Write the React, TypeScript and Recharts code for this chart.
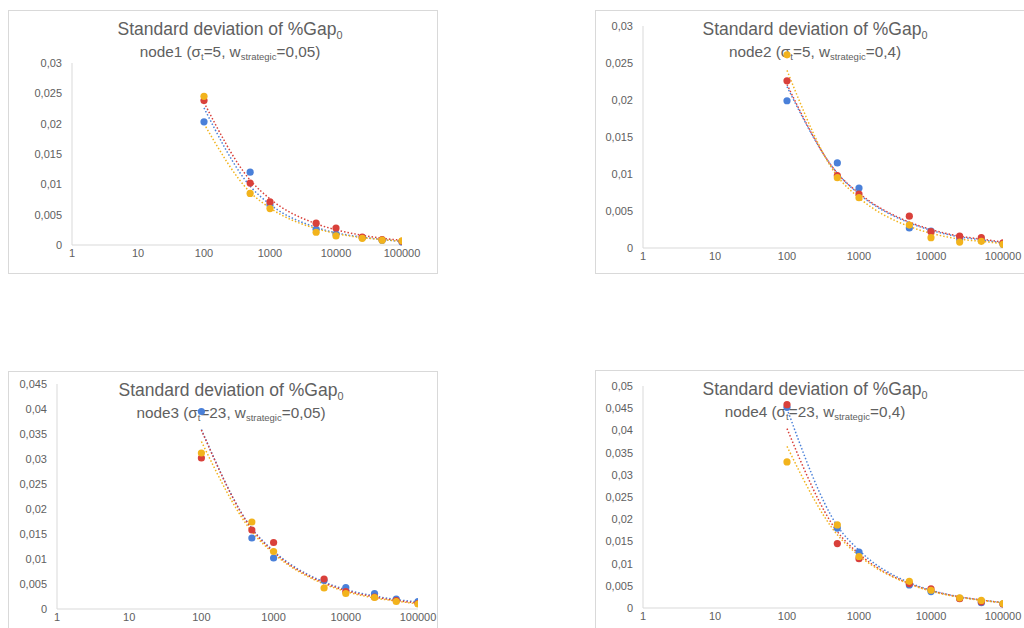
import React from 'react';
import { ComposedChart, XAxis, YAxis, Scatter, Line } from 'recharts';

// sample sizes (x values)
const sampleSizes = [100, 500, 1000, 5000, 10000, 25000, 50000, 100000];
const xTicks = [1, 10, 100, 1000, 10000, 100000];

// node1
const blue1 = [0.0203, 0.0120, 0.0066, 0.0026, 0.0018, 0.0012, 0.0008, 0.0005];
const red1 = [0.0238, 0.0102, 0.0071, 0.0036, 0.0028, 0.0013, 0.0009, 0.0006];
const yellow1 = [0.0245, 0.0085, 0.0060, 0.0021, 0.0015, 0.0011, 0.0008, 0.0007];
const blueTrend1 = [0.0226, 0.0097, 0.0067, 0.0029, 0.0020, 0.0013, 0.0009, 0.0006];
const redTrend1 = [0.0235, 0.0107, 0.0076, 0.0035, 0.0025, 0.0016, 0.0011, 0.0008];
const yellowTrend1 = [0.0200, 0.0087, 0.0061, 0.0027, 0.0019, 0.0012, 0.0009, 0.0006];

// node2
const blue2 = [0.0199, 0.0115, 0.0081, 0.0027, 0.0023, 0.0012, 0.0010, 0.0005];
const red2 = [0.0226, 0.0098, 0.0073, 0.0043, 0.0022, 0.0016, 0.0014, 0.0007];
const yellow2 = [0.0261, 0.0095, 0.0068, 0.0031, 0.0014, 0.0008, 0.0009, 0.0005];
const blueTrend2 = [0.0218, 0.0101, 0.0073, 0.0034, 0.0024, 0.0015, 0.0011, 0.0007];
const redTrend2 = [0.0221, 0.0101, 0.0074, 0.0035, 0.0025, 0.0016, 0.0012, 0.0008];
const yellowTrend2 = [0.0240, 0.0097, 0.0068, 0.0029, 0.0020, 0.0012, 0.0009, 0.0006];

// node3
const blue3 = [0.0395, 0.0142, 0.0102, 0.0057, 0.0043, 0.0031, 0.0020, 0.0015];
const red3 = [0.0302, 0.0158, 0.0133, 0.0060, 0.0035, 0.0024, 0.0017, 0.0011];
const yellow3 = [0.0312, 0.0174, 0.0115, 0.0042, 0.0031, 0.0023, 0.0015, 0.0010];
const blueTrend3 = [0.0359, 0.0161, 0.0116, 0.0054, 0.0039, 0.0026, 0.0019, 0.0014];
const redTrend3 = [0.0358, 0.0160, 0.0114, 0.0052, 0.0037, 0.0024, 0.0017, 0.0012];
const yellowTrend3 = [0.0335, 0.0155, 0.0111, 0.0050, 0.0035, 0.0022, 0.0016, 0.0010];

// node4
const blue4 = [0.0452, 0.0180, 0.0126, 0.0052, 0.0037, 0.0022, 0.0012, 0.0009];
const red4 = [0.0458, 0.0145, 0.0111, 0.0055, 0.0043, 0.0021, 0.0014, 0.0009];
const yellow4 = [0.0329, 0.0187, 0.0116, 0.0060, 0.0040, 0.0023, 0.0017, 0.0010];
const blueTrend4 = [0.0449, 0.0185, 0.0130, 0.0057, 0.0040, 0.0025, 0.0018, 0.0012];
const redTrend4 = [0.0404, 0.0172, 0.0122, 0.0055, 0.0039, 0.0025, 0.0018, 0.0012];
const yellowTrend4 = [0.0364, 0.0165, 0.0118, 0.0054, 0.0038, 0.0024, 0.0017, 0.0012];

const yTicks1 = [0, 0.005, 0.01, 0.015, 0.02, 0.025, 0.03];
const yTicks3 = [0, 0.005, 0.01, 0.015, 0.02, 0.025, 0.03, 0.035, 0.04, 0.045];
const yTicks4 = [0, 0.005, 0.01, 0.015, 0.02, 0.025, 0.03, 0.035, 0.04, 0.045, 0.05];

const BLUE = '#4a80d9';
const RED = '#d9403a';
const YELLOW = '#f2b31c';
const FONT = '"Liberation Sans", Arial, sans-serif';

const build = (b: number[], r: number[], y: number[], bt: number[], rt: number[], yt: number[]) =>
  sampleSizes.map((n, i) => ({ n, b: b[i], r: r[i], y: y[i], bt: bt[i], rt: rt[i], yt: yt[i] }));

const fmtY = (v: number) => (v === 0 ? '0' : String(v).replace('.', ','));

const dot = (color: string) => (p: any) =>
  p.cx == null || p.cy == null ? <g /> : <circle cx={p.cx} cy={p.cy} r={3.6} fill={color} />;

const Sub = ({ children }: { children: React.ReactNode }) => (
  <span style={{ fontSize: '62%', position: 'relative', top: '0.32em' }}>{children}</span>
);

type PanelProps = {
  box: { left: number; top: number; w: number; h: number };
  plot: { left: number; right: number; top: number; bottom: number };
  data: any[];
  yTicks: number[];
  node: string;
  sigma: string;
  weight: string;
  titleX: number;
};

const Panel = ({ box, plot, data, yTicks, node, sigma, weight, titleX }: PanelProps) => {
  const cw = box.w - 2;
  const ch = box.h - 2;
  const xAxisH = 20;
  const tickStyle = { fill: '#606060', fontSize: 11, fontFamily: FONT };
  return (
    <div
      style={{
        position: 'absolute',
        left: box.left,
        top: box.top,
        width: box.w,
        height: box.h,
        boxSizing: 'border-box',
        border: '1px solid #d9d9d9',
        background: '#fff',
      }}
    >
      <div
        style={{
          position: 'absolute',
          left: titleX - 200,
          width: 400,
          top: 10.2,
          textAlign: 'center',
          fontFamily: FONT,
          fontSize: 17.5,
          lineHeight: '17.5px',
          color: '#606060',
          whiteSpace: 'nowrap',
        }}
      >
        Standard deviation of %Gap<Sub>0</Sub>
      </div>
      <div
        style={{
          position: 'absolute',
          left: titleX - 200,
          width: 400,
          top: 33.2,
          textAlign: 'center',
          fontFamily: FONT,
          fontSize: 15.3,
          lineHeight: '15.3px',
          color: '#606060',
          whiteSpace: 'nowrap',
        }}
      >
        {node} (σ<Sub>t</Sub>={sigma}, w<Sub>strategic</Sub>={weight})
      </div>
      <div style={{ position: 'absolute', left: 0, top: 0 }}>
        <ComposedChart
          width={cw}
          height={ch}
          data={data}
          margin={{ top: plot.top, right: cw - plot.right, left: 0, bottom: ch - plot.bottom - xAxisH }}
        >
          <XAxis
            dataKey="n"
            type="number"
            scale="log"
            domain={[1, 100000]}
            ticks={xTicks}
            allowDataOverflow
            height={xAxisH}
            tickLine={false}
            tickSize={2}
            tickMargin={2}
            axisLine={{ stroke: '#d9d9d9' }}
            tick={tickStyle}
            interval={0}
          />
          <YAxis
            type="number"
            domain={[yTicks[0], yTicks[yTicks.length - 1]]}
            ticks={yTicks}
            width={plot.left}
            tickLine={false}
            tickSize={7}
            tickMargin={3}
            axisLine={{ stroke: '#d9d9d9' }}
            tick={tickStyle}
            tickFormatter={fmtY}
            interval={0}
          />
          <Scatter dataKey="b" fill={BLUE} shape={dot(BLUE)} isAnimationActive={false} />
          <Scatter dataKey="r" fill={RED} shape={dot(RED)} isAnimationActive={false} />
          <Scatter dataKey="y" fill={YELLOW} shape={dot(YELLOW)} isAnimationActive={false} />
          <Line dataKey="bt" type="monotone" stroke={BLUE} strokeWidth={1.5} strokeDasharray="1.5 2" dot={false} isAnimationActive={false} />
          <Line dataKey="rt" type="monotone" stroke={RED} strokeWidth={1.5} strokeDasharray="1.5 2" dot={false} isAnimationActive={false} />
          <Line dataKey="yt" type="monotone" stroke={YELLOW} strokeWidth={1.5} strokeDasharray="1.5 2" dot={false} isAnimationActive={false} />
        </ComposedChart>
      </div>
    </div>
  );
};

export default function App() {
  return (
    <div
      style={{
        position: 'absolute',
        left: 0,
        top: 0,
        width: 1024,
        height: 628,
        overflow: 'hidden',
        background: '#fff',
      }}
    >
      <Panel
        box={{ left: 8, top: 10, w: 430, h: 264 }}
        plot={{ left: 63, right: 393, top: 52, bottom: 234 }}
        data={build(blue1, red1, yellow1, blueTrend1, redTrend1, yellowTrend1)}
        yTicks={yTicks1}
        node="node1"
        sigma="5"
        weight="0,05"
        titleX={221}
      />
      <Panel
        box={{ left: 595, top: 10, w: 440, h: 264 }}
        plot={{ left: 47, right: 407, top: 15, bottom: 237 }}
        data={build(blue2, red2, yellow2, blueTrend2, redTrend2, yellowTrend2)}
        yTicks={yTicks1}
        node="node2"
        sigma="5"
        weight="0,4"
        titleX={219}
      />
      <Panel
        box={{ left: 8, top: 371, w: 430, h: 270 }}
        plot={{ left: 48, right: 409, top: 12, bottom: 237 }}
        data={build(blue3, red3, yellow3, blueTrend3, redTrend3, yellowTrend3)}
        yTicks={yTicks3}
        node="node3"
        sigma="23"
        weight="0,05"
        titleX={222}
      />
      <Panel
        box={{ left: 595, top: 370, w: 440, h: 270 }}
        plot={{ left: 47, right: 407, top: 15, bottom: 237 }}
        data={build(blue4, red4, yellow4, blueTrend4, redTrend4, yellowTrend4)}
        yTicks={yTicks4}
        node="node4"
        sigma="23"
        weight="0,4"
        titleX={219}
      />
    </div>
  );
}
